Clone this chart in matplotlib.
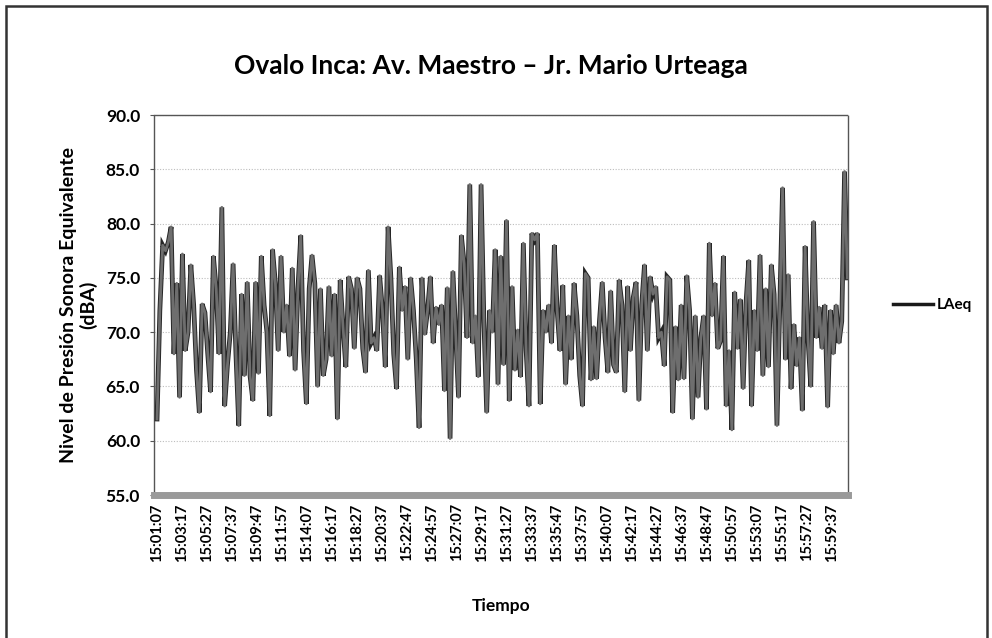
import numpy as np
import matplotlib
matplotlib.use("Agg")
import matplotlib.pyplot as plt
from matplotlib.patches import Rectangle

# ---- data ----
title = "Ovalo Inca: Av. Maestro \u2013 Jr. Mario Urteaga"
series_name = "LAeq"
x_label = "Tiempo"
y_label = "Nivel de Presi\u00f3n Sonora Equivalente\n(dBA)"

tick_labels = ["15:01:07", "15:03:17", "15:05:27", "15:07:37", "15:09:47", "15:11:57",
               "15:14:07", "15:16:17", "15:18:27", "15:20:37", "15:22:47", "15:24:57",
               "15:27:07", "15:29:17", "15:31:27", "15:33:37", "15:35:47", "15:37:57",
               "15:40:07", "15:42:17", "15:44:27", "15:46:37", "15:48:47", "15:50:57",
               "15:53:07", "15:55:17", "15:57:27", "15:59:37"]
tick_seconds = [i * 130 for i in range(len(tick_labels))]

laeq_part1 = [62.0, 72.0, 78.0, 77.5, 78.3, 79.7, 68.0, 74.5, 64.0, 77.2, 68.3, 70.0, 76.2,
              72.5, 66.5, 62.6, 72.6, 71.8, 68.0, 64.5, 77.0, 74.0, 68.0, 81.5, 63.2, 67.0,
              70.0, 76.3, 68.0, 61.4, 73.5, 66.0, 74.6, 66.0, 63.7, 74.6, 66.2, 77.0, 72.5]
laeq_part2 = [70.0, 62.3, 77.6, 74.5, 68.3, 77.0, 70.0, 72.5, 67.8, 75.9, 66.5, 74.0, 78.9,
              68.3, 63.4, 74.0, 77.1, 74.5, 65.0, 74.0, 66.0, 67.5, 74.2, 67.8, 73.5, 62.0,
              74.8, 70.5, 66.8, 75.1, 74.0, 68.5, 75.0, 74.0, 68.5, 66.3, 75.7, 69.0]
laeq_part3 = [69.5, 68.3, 75.2, 72.0, 66.8, 79.7, 75.0, 68.0, 64.8, 76.0, 72.0, 74.2, 67.5,
              75.0, 72.0, 67.5, 61.2, 75.0, 69.8, 72.0, 75.1, 69.0, 72.3, 70.7, 72.5, 64.6,
              74.1, 60.2, 75.6, 69.8, 64.0, 78.9, 76.3, 69.5, 83.6, 69.0, 71.5, 65.9]
laeq_part4 = [83.6, 71.0, 62.6, 72.0, 70.0, 77.6, 65.2, 77.0, 67.0, 80.3, 63.7, 74.2, 66.5,
              70.2, 65.9, 78.2, 68.3, 63.2, 79.1, 78.5, 79.1, 63.4, 72.0, 70.0, 72.5, 69.0,
              78.0, 72.0, 68.3, 74.3, 65.2, 71.5, 67.5, 74.5, 71.5, 66.0, 63.2, 75.4, 75.0, 65.6]
laeq_part5 = [70.5, 65.7, 71.0, 74.6, 69.5, 66.3, 73.8, 67.0, 66.3, 74.8, 72.5, 64.5, 74.2,
              68.3, 73.2, 74.6, 63.7, 72.5, 76.2, 68.3, 75.1, 73.5, 74.2, 69.5, 70.0, 66.9,
              75.1, 74.8, 62.6, 70.5, 65.6, 72.5, 65.7, 75.2, 72.0, 62.0, 71.5, 64.0, 69.5, 71.5]
laeq_part6 = [62.9, 78.2, 71.5, 74.5, 68.5, 69.2, 77.0, 63.2, 68.3, 61.0, 73.7, 68.5, 73.0,
              64.8, 72.6, 76.6, 63.2, 72.0, 68.3, 77.1, 66.0, 74.0, 66.8, 76.2, 73.5, 61.4,
              72.5, 83.3, 67.5, 75.3, 64.8, 70.7, 66.9, 69.5, 62.8, 77.9, 69.5, 65.0, 80.2,
              69.5, 72.3, 68.5, 72.5, 63.1, 72.0, 68.0, 72.5, 69.0, 71.0, 84.8, 75.0]

laeq = np.array(laeq_part1 + laeq_part2 + laeq_part3 + laeq_part4 + laeq_part5 + laeq_part6)
duration_s = 3590
t = np.linspace(0, duration_s, len(laeq))

# ---- figure ----
FONT = ["Lato", "DejaVu Sans"]
plt.rcParams["font.family"] = FONT
fig = plt.figure(figsize=(9.92, 6.38), dpi=100)
ax = fig.add_axes([0.1552, 0.2241, 0.6996, 0.5956])

ax.plot(t, laeq, color="#262626", lw=3.4, solid_joinstyle="miter", zorder=3)
ax.plot(t, laeq, color="#6e6e6e", lw=2.0, zorder=4)

ax.set_ylim(55, 90)
ax.set_xlim(-16, 3593)
yt = np.arange(55, 90.1, 5)
ax.set_yticks(yt)
ax.set_yticklabels([f"{v:.1f}" for v in yt], fontsize=12.5, fontweight="bold")
ax.set_xticks(tick_seconds)
ax.set_xticklabels(tick_labels, rotation=90, fontsize=10.5, fontweight="bold")
ax.tick_params(axis="x", length=0, pad=6)
ax.tick_params(axis="y", length=3, width=0.8, color="#555555", pad=7)

ax.yaxis.grid(True, linestyle=(0, (1, 1.5)), color="#bdbdbd", lw=0.8)
ax.set_axisbelow(True)

for s in ["top", "right", "left"]:
    ax.spines[s].set_linestyle((0, (1, 1)))
    ax.spines[s].set_color("#555555")
    ax.spines[s].set_linewidth(1.0)
ax.spines["bottom"].set_color("#9a9a9a")
ax.spines["bottom"].set_linewidth(5)

ax.set_xlabel(x_label, fontsize=12.5, fontweight="bold", labelpad=26)
ax.set_ylabel(y_label, fontsize=14, fontweight="bold", labelpad=6, linespacing=1.15)

fig.text(0.495, 0.897, title, ha="center", va="center", fontsize=19, fontweight="bold")

# legend
leg = ax.legend([plt.Line2D([0], [0], color="#1a1a1a", lw=2.5)], [series_name],
                loc="center left", bbox_to_anchor=(1.045, 0.5), frameon=False,
                handlelength=2.6, handletextpad=0.3,
                prop={"family": FONT, "weight": "bold", "size": 11})

# outer frame
fig.patches.append(Rectangle((0.006, -0.05), 0.989, 1.04, transform=fig.transFigure,
                             fill=False, edgecolor="#333333", lw=1.8))

fig.savefig("out.png", dpi=100)
